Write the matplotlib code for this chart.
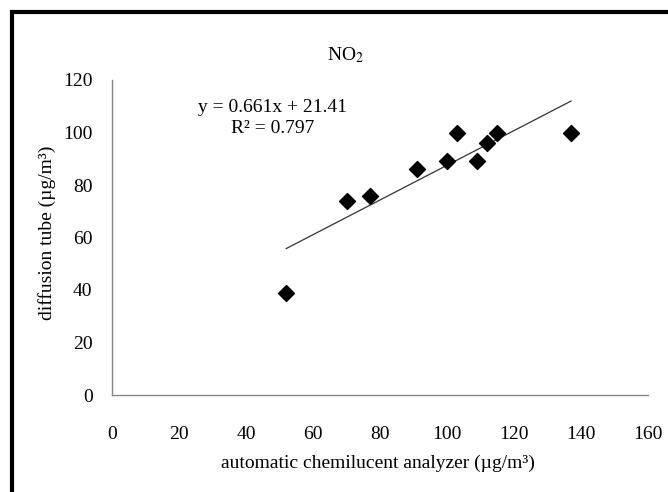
import numpy as np
import matplotlib.pyplot as plt
from matplotlib.patches import Rectangle

# analyzer vs diffusion tube readings (ug/m3)
analyzer = [52, 70, 77, 91, 100, 103, 109, 112, 115, 137]
tube = [39, 74, 76, 86, 89, 100, 89, 96, 100, 100]

slope = 0.661
intercept = 21.41
r2 = 0.797

xticks = [0, 20, 40, 60, 80, 100, 120, 140, 160]
yticks = [0, 20, 40, 60, 80, 100, 120]

plt.rcParams['font.family'] = ['Liberation Serif', 'DejaVu Serif']

fig = plt.figure(figsize=(6.68, 4.92), dpi=100)
ax = fig.add_axes([112/668, 1-395/492, (648-112)/668, (395-80)/492])

ax.scatter(analyzer, tube, marker='D', s=66, color='black', zorder=3)

xfit = np.array([min(analyzer), max(analyzer)])
ax.plot(xfit, slope*xfit + intercept, color='#333333', lw=0.9)

ax.set_xlim(0, 160)
ax.set_ylim(0, 120)
ax.set_xticks(xticks)
ax.set_yticks(yticks)
ax.tick_params(length=0, labelsize=14)
ax.tick_params(axis='x', pad=22)
ax.tick_params(axis='y', pad=14)

for s in ['top', 'right']:
    ax.spines[s].set_visible(False)
for s in ['left', 'bottom']:
    ax.spines[s].set_color('#888888')
    ax.spines[s].set_linewidth(1)

fig.text(346/668, 1-55/492, 'NO$_2$', ha='center', va='center', fontsize=14,
         math_fontfamily='stix')
fig.text(272/668, 1-107/492, 'y = 0.661x + %.2f' % intercept, ha='center', va='center', fontsize=14)
fig.text(273/668, 1-128/492, 'R² = %.3f' % r2, ha='center', va='center', fontsize=14)
fig.text(47/668, 1-233/492, 'diffusion tube (µg/m³)', ha='center', va='center',
         rotation=90, fontsize=14)
fig.text(378/668, 1-463/492, 'automatic chemilucent analyzer (µg/m³)', ha='center',
         va='center', fontsize=14)

# outer frame, running off the right and bottom edges
fig.patches.append(Rectangle((12/668, -0.1), 1.1, 1-12/492+0.1, transform=fig.transFigure,
                             fill=False, edgecolor='black', linewidth=3))

fig.savefig('out.png', dpi=100)
